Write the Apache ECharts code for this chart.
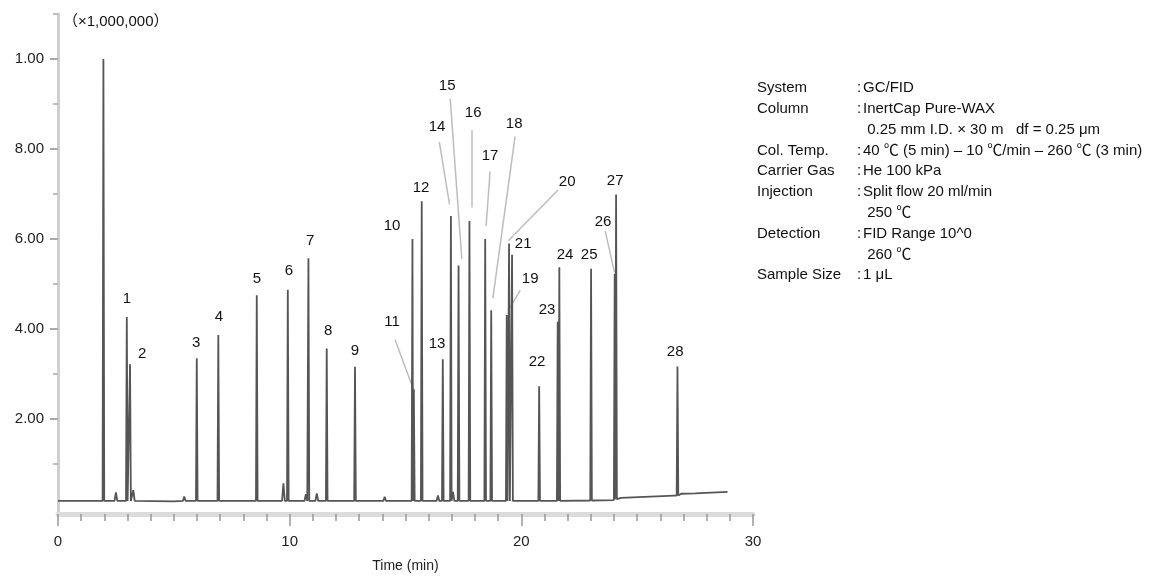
<!DOCTYPE html>
<html>
<head>
<meta charset="utf-8">
<script src="https://cdn.jsdelivr.net/npm/echarts@6/dist/echarts.min.js"></script>
<style>
html,body{margin:0;padding:0;background:#fff;}
#chart{width:1164px;height:578px;}
</style>
</head>
<body>
<div id="chart"></div>
<script>
// ---- data (time in min, signal in ×1,000,000 axis units) ----
const peakIds   = ['', '1','2','3','4','5','6','7','8','9','10','11','12','13','14','15','16','17','18','19','20','21','22','23','24','25','26','27','28'];
const peakTimes = [1.96, 2.97, 3.11, 5.99, 6.92, 8.58, 9.92, 10.81, 11.60, 12.82, 15.30, 15.36, 15.70, 16.61, 16.96, 17.29, 17.76, 18.44, 18.70, 19.37, 19.47, 19.60, 20.77, 21.57, 21.64, 23.01, 24.03, 24.09, 26.74];
const peakHeights = [10.0, 4.27, 3.22, 3.35, 3.87, 4.75, 4.87, 5.57, 3.57, 3.16, 6.00, 2.66, 6.84, 3.33, 6.51, 5.41, 6.40, 6.00, 4.42, 4.31, 5.90, 5.65, 2.73, 4.16, 5.37, 5.34, 5.23, 6.99, 3.17];
const peakBase  = [0.18, 0.18, 0.18, 0.18, 0.18, 0.18, 0.18, 0.18, 0.18, 0.18, 0.18, 0.18, 0.18, 0.18, 0.18, 0.18, 0.18, 0.18, 0.18, 0.18, 0.18, 0.18, 0.18, 0.18, 0.18, 0.19, 0.2, 0.22, 0.3];

const smallPeakTimes   = [2.50, 3.25, 5.45, 9.73, 10.70, 11.17, 14.10, 16.40, 17.05];
const smallPeakHeights = [0.37, 0.42, 0.28, 0.57, 0.33, 0.35, 0.27, 0.30, 0.38];

const baseTimes  = [0, 5, 10, 15, 20, 23.0, 24.3, 26.6, 26.9, 27.5, 28.9];
const baseValues = [0.18, 0.17, 0.18, 0.18, 0.18, 0.19, 0.25, 0.30, 0.34, 0.35, 0.38];

// peak number labels (centre of the number, in data units)
const labelTimes  = [2.98, 3.63, 5.96, 6.95, 8.59, 9.97, 10.88, 11.66, 12.82, 14.42, 14.42, 15.67, 16.36, 16.36, 16.80, 17.92, 18.65, 19.69, 20.38, 21.98, 20.08, 20.68, 21.11, 21.89, 22.93, 23.53, 24.05, 26.64];
const labelValues = [4.67, 3.44, 3.70, 4.27, 5.11, 5.29, 5.95, 3.96, 3.52, 6.30, 4.16, 7.14, 3.68, 8.50, 9.41, 8.81, 7.84, 8.55, 5.11, 7.27, 5.90, 3.26, 4.43, 5.64, 5.64, 6.39, 7.29, 3.50];
const labelIds    = ['1','2','3','4','5','6','7','8','9','10','11','12','13','14','15','16','17','18','19','20','21','22','23','24','25','26','27','28'];

// leader lines: [t1, v1, t2, v2]
const leaderLines = [
  [14.55, 3.76, 15.34, 2.66],
  [16.46, 8.16, 16.90, 6.77],
  [16.93, 9.12, 17.43, 5.56],
  [17.86, 8.42, 17.86, 6.70],
  [18.65, 7.50, 18.48, 6.29],
  [19.73, 8.28, 18.77, 4.68],
  [19.95, 4.86, 19.44, 4.42],
  [21.68, 7.14, 19.44, 5.96],
  [23.62, 6.18, 24.02, 5.26]
];

const yTickValues = [2, 4, 6, 8, 10];
const yTickLabels = ['2.00', '4.00', '6.00', '8.00', '1.00'];
const yMinorTicks = [1, 3, 5, 7, 9, 11];
const xTickLabels = [0, 10, 20, 30];

const infoLabels = ['System', 'Column', '', 'Col. Temp.', 'Carrier Gas', 'Injection', '', 'Detection', '', 'Sample Size'];
const infoValues = ['GC/FID', 'InertCap Pure-WAX', ' 0.25 mm I.D. × 30 m   df = 0.25 μm', '40 ℃ (5 min) – 10 ℃/min – 260 ℃ (3 min)', 'He 100 kPa', 'Split flow 20 ml/min', ' 250 ℃', 'FID Range 10^0', ' 260 ℃', '1 μL'];

// ---- build the trace from the read values ----
const HALF = 0.035;
let trace = [];
for (let i = 0; i < baseTimes.length; i++) trace.push([baseTimes[i], baseValues[i]]);
for (let i = 0; i < peakTimes.length; i++) {
  trace.push([peakTimes[i] - HALF, peakBase[i]]);
  trace.push([peakTimes[i], peakHeights[i]]);
  trace.push([peakTimes[i] + HALF, peakBase[i]]);
}
for (let i = 0; i < smallPeakTimes.length; i++) {
  trace.push([smallPeakTimes[i] - 0.06, 0.18]);
  trace.push([smallPeakTimes[i], smallPeakHeights[i]]);
  trace.push([smallPeakTimes[i] + 0.06, 0.18]);
}
trace.sort((a, b) => a[0] - b[0]);

const labelData = labelIds.map((id, i) => ({ name: id, value: [labelTimes[i], labelValues[i]] }));
const leaderData = leaderLines.map(l => ({ coords: [[l[0], l[1]], [l[2], l[3]]] }));

const FONT = '"Liberation Sans", Arial, "Noto Sans CJK JP", sans-serif';

const chart = echarts.init(document.getElementById('chart'), null, { renderer: 'canvas' });
chart.setOption({
  animation: false,
  backgroundColor: '#fff',
  textStyle: { fontFamily: FONT },
  grid: { left: 58, right: 411, top: 14, bottom: 59, containLabel: false },
  xAxis: {
    type: 'value', min: 0, max: 30, interval: 10,
    name: 'Time (min)', nameLocation: 'middle', nameGap: 45,
    nameTextStyle: { fontSize: 14, color: '#222', fontFamily: FONT },
    axisLine: { onZero: false, lineStyle: { color: '#dcdcdc', width: 5 } },
    axisTick: { show: true, length: 12, lineStyle: { color: '#999', width: 1.5 } },
    minorTick: { show: true, splitNumber: 10, length: 7, lineStyle: { color: '#999', width: 1.5 } },
    axisLabel: { margin: 20, fontSize: 15, color: '#222', customValues: xTickLabels },
    splitLine: { show: false }, minorSplitLine: { show: false }
  },
  yAxis: [{
    type: 'value', min: -0.11, max: 11,
    axisLine: { show: true, lineStyle: { color: '#cfcfcf', width: 3 } },
    axisTick: { show: true, length: 8, customValues: yTickValues, lineStyle: { color: '#aaa', width: 2 } },
    axisLabel: {
      margin: 14, fontSize: 15, color: '#222', customValues: yTickValues,
      formatter: v => yTickLabels[yTickValues.indexOf(v)]
    },
    splitLine: { show: false }
  }, {
    type: 'value', min: -0.11, max: 11, position: 'left',
    axisLine: { show: false },
    axisTick: { show: true, length: 5, customValues: yMinorTicks, lineStyle: { color: '#bbb', width: 2 } },
    axisLabel: { show: false },
    splitLine: { show: false }
  }],
  graphic: [
    { type: 'text', left: 63, top: 14, style: { text: '（×1,000,000）', font: '15px ' + FONT, fill: '#111' } },
    { type: 'text', x: 757, y: 77.6, style: { text: infoLabels.join('\n'), font: '15px ' + FONT, lineHeight: 20.8, fill: '#111' } },
    { type: 'text', x: 857, y: 77.6, style: { text: infoLabels.map(l => l ? ':' : '').join('\n'), font: '15px ' + FONT, lineHeight: 20.8, fill: '#111' } },
    { type: 'text', x: 863, y: 77.6, style: { text: infoValues.join('\n'), font: '15px ' + FONT, lineHeight: 20.8, fill: '#111' } }
  ],
  series: [
    {
      type: 'lines', coordinateSystem: 'cartesian2d', z: 1,
      data: leaderData,
      lineStyle: { color: '#bdbdbd', width: 1.5, opacity: 1, curveness: 0 },
      symbol: 'none', silent: true
    },
    {
      type: 'line', data: trace, showSymbol: false, z: 2,
      lineStyle: { color: '#555', width: 1.8 },
      silent: true
    },
    {
      type: 'scatter', data: labelData, symbolSize: 1, z: 5,
      itemStyle: { color: '#fff', opacity: 1 },
      label: {
        show: true, position: 'inside', formatter: '{b}',
        fontSize: 15, color: '#111', backgroundColor: '#fff', padding: [1, 1],
        fontFamily: FONT, opacity: 1
      },
      emphasis: { disabled: true },
      silent: true
    }
  ]
});
</script>
</body>
</html>
